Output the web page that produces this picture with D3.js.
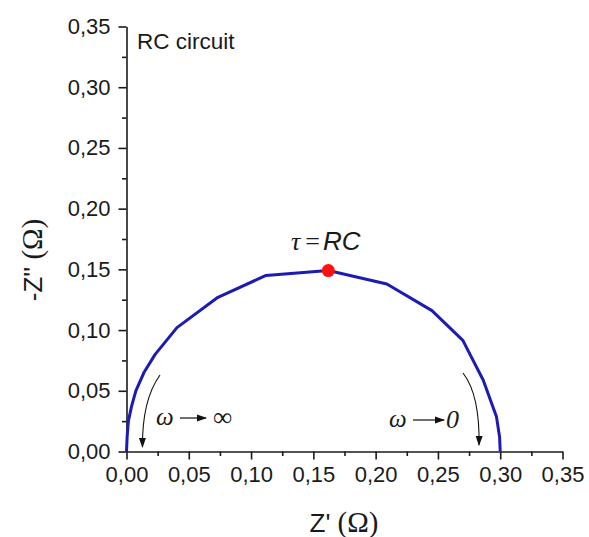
<!DOCTYPE html>
<html>
<head>
<meta charset="utf-8">
<script src="https://cdn.jsdelivr.net/npm/d3@7"></script>
<style>
  html, body { margin: 0; padding: 0; background: #fff; }
  svg { display: block; }
</style>
</head>
<body>
<svg id="chart" width="589" height="537"></svg>
<script>
// ---- data ----
const zReal = [0, 0.0005, 0.0015, 0.004, 0.0075, 0.014, 0.023, 0.0405, 0.0734, 0.112, 0.162, 0.209, 0.2452, 0.270, 0.2864, 0.297, 0.2995, 0.300];
const zImag = [0, 0.012, 0.025, 0.037, 0.050, 0.065, 0.080, 0.102, 0.127, 0.145, 0.149, 0.138, 0.116, 0.0915, 0.0587, 0.0286, 0.012, 0];
const tauReal = [0.162];
const tauImag = [0.149];
const xTicks = [0, 0.05, 0.10, 0.15, 0.20, 0.25, 0.30, 0.35];
const yTicks = [0, 0.05, 0.10, 0.15, 0.20, 0.25, 0.30, 0.35];
const minorTicks = [0.025, 0.075, 0.125, 0.175, 0.225, 0.275, 0.325];

const svg = d3.select("#chart");
const FONT = "'Liberation Sans', Arial, sans-serif";
const SERIF = "'Liberation Serif', 'Times New Roman', serif";

const x = d3.scaleLinear().domain([0, 0.35]).range([126.5, 562.5]);
const y = d3.scaleLinear().domain([0, 0.35]).range([451.5, 26.5]);
const fmt = v => d3.format(".2f")(v).replace(".", ",");

// markers
const defs = svg.append("defs");
defs.append("marker").attr("id", "ah").attr("viewBox", "0 0 10 10")
  .attr("refX", 9).attr("refY", 5).attr("markerWidth", 10).attr("markerHeight", 10)
  .attr("markerUnits", "userSpaceOnUse").attr("orient", "auto")
  .append("path").attr("d", "M0,1.5 L10,5 L0,8.5 Z").attr("fill", "#111");

// axes
svg.append("g").attr("transform", `translate(0,${y(0)})`)
  .call(d3.axisBottom(x).tickValues(xTicks).tickFormat(fmt).tickSize(8).tickSizeOuter(0).tickPadding(7));
svg.append("g").attr("transform", `translate(0,${y(0)})`)
  .call(d3.axisBottom(x).tickValues(minorTicks).tickFormat("").tickSize(4.5).tickSizeOuter(0))
  .select(".domain").remove();
svg.append("g").attr("transform", `translate(${x(0)},0)`)
  .call(d3.axisLeft(y).tickValues(yTicks).tickFormat(fmt).tickSize(8).tickSizeOuter(0).tickPadding(8));
svg.append("g").attr("transform", `translate(${x(0)},0)`)
  .call(d3.axisLeft(y).tickValues(minorTicks).tickFormat("").tickSize(4.5).tickSizeOuter(0))
  .select(".domain").remove();

svg.selectAll(".domain, .tick line").attr("stroke", "#1a1a1a").attr("stroke-width", 1.6);
svg.selectAll(".tick text").attr("font-family", FONT).attr("font-size", 22).attr("fill", "#1a1a1a");

// axis titles
const xt = svg.append("text").attr("x", 344).attr("y", 532).attr("text-anchor", "middle")
  .attr("font-family", FONT).attr("font-size", 26).attr("fill", "#1a1a1a");
xt.append("tspan").text("Z' ");
xt.append("tspan").attr("font-family", SERIF).attr("font-size", 29).text("(Ω)");

const yt = svg.append("text").attr("transform", "translate(42,260) rotate(-90)").attr("text-anchor", "middle")
  .attr("font-family", FONT).attr("font-size", 26).attr("fill", "#1a1a1a");
yt.append("tspan").text("-Z'' ");
yt.append("tspan").attr("font-family", SERIF).attr("font-size", 29).text("(Ω)");

// curve
const pts = zReal.map((d, i) => [d, zImag[i]]);
svg.append("path").datum(pts)
  .attr("d", d3.line().x(d => x(d[0])).y(d => y(d[1])))
  .attr("fill", "none").attr("stroke", "#1c1cb4").attr("stroke-width", 3).attr("stroke-linejoin", "round");

svg.selectAll("circle.tau").data(tauReal).enter().append("circle")
  .attr("cx", d => x(d)).attr("cy", (d, i) => y(tauImag[i])).attr("r", 6.5).attr("fill", "#ff1010");

// annotations
svg.append("text").attr("x", 137).attr("y", 49).attr("font-family", FONT).attr("font-size", 22.5)
  .attr("fill", "#1a1a1a").text("RC circuit");

const tau = svg.append("text").attr("x", 291).attr("y", 250).attr("font-size", 26).attr("fill", "#1a1a1a");
tau.append("tspan").attr("font-family", SERIF).attr("font-style", "italic").text("τ");
tau.append("tspan").attr("font-family", SERIF).attr("dx", 5).text("=");
tau.append("tspan").attr("font-family", FONT).attr("font-style", "italic").attr("dx", 3).text("RC");

// omega -> infinity
svg.append("text").attr("x", 156).attr("y", 425).attr("font-family", SERIF).attr("font-style", "italic")
  .attr("font-size", 25).attr("fill", "#1a1a1a").text("ω");
svg.append("line").attr("x1", 180).attr("y1", 418).attr("x2", 206).attr("y2", 418)
  .attr("stroke", "#111").attr("stroke-width", 1.2).attr("marker-end", "url(#ah)");
svg.append("text").attr("x", 213).attr("y", 426).attr("font-family", SERIF)
  .attr("font-size", 27).attr("fill", "#1a1a1a").text("∞");

// omega -> 0
svg.append("text").attr("x", 389).attr("y", 427).attr("font-family", SERIF).attr("font-style", "italic")
  .attr("font-size", 25).attr("fill", "#1a1a1a").text("ω");
svg.append("line").attr("x1", 413).attr("y1", 420).attr("x2", 444).attr("y2", 420)
  .attr("stroke", "#111").attr("stroke-width", 1.2).attr("marker-end", "url(#ah)");
svg.append("text").attr("x", 446).attr("y", 428).attr("font-family", SERIF).attr("font-style", "italic")
  .attr("font-size", 26).attr("fill", "#1a1a1a").text("0");

// curved arrows
svg.append("path").attr("d", "M160,375 Q142,400 142.5,447")
  .attr("fill", "none").attr("stroke", "#111").attr("stroke-width", 1.1).attr("marker-end", "url(#ah)");
svg.append("path").attr("d", "M463,373 Q480,395 479,445")
  .attr("fill", "none").attr("stroke", "#111").attr("stroke-width", 1.1).attr("marker-end", "url(#ah)");
</script>
</body>
</html>
